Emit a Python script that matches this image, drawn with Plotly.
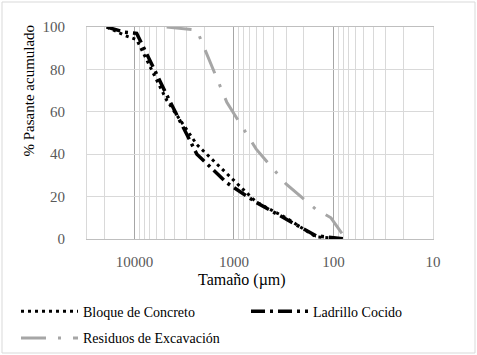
import plotly.graph_objects as go
import math

# Data (sizes in µm, % passing)
sizes_black = [19000, 12500, 9500, 4750, 2360, 1180, 600, 300, 150, 75]
bloque = [100, 96, 94, 65.5, 44.5, 31, 17.5, 10, 1, 0]
ladrillo = [100, 97.5, 97, 68, 40, 26.5, 17.3, 9.5, 1.5, 0]
sizes_gray = [4750, 2360, 1180, 600, 300, 150, 106, 75]
residuos = [100, 98.5, 64.5, 42.5, 26, 14, 10, 0]

major_ticks = [10000, 1000, 100, 10]
major_labels = ["10000", "1000", "100", "10"]
y_ticks = [0, 20, 40, 60, 80, 100]

W, H = 477, 355
L, R, T, B = 87, 44, 27, 116
pw, ph = W - L - R, H - T - B

def px_x(p):
    return (p - L) / pw

def px_y(p):
    return (H - B - p) / ph

minor_vals = []
for dec in [10, 100, 1000, 10000]:
    for k in range(2, 10):
        v = k * dec
        if v <= 30000:
            minor_vals.append(v)

FONT = "Liberation Serif, Times New Roman, serif"

fig = go.Figure()
fig.add_trace(go.Scatter(
    x=sizes_black, y=bloque, mode="lines", name="Bloque de Concreto",
    line=dict(color="#000000", width=3, dash="3px,4px"), legend="legend"))
fig.add_trace(go.Scatter(
    x=sizes_black, y=ladrillo, mode="lines", name="Ladrillo Cocido",
    line=dict(color="#000000", width=3.5, dash="14px,5px,3px,5px"), legend="legend3"))
fig.add_trace(go.Scatter(
    x=sizes_gray, y=residuos, mode="lines", name="Residuos de Excavación",
    line=dict(color="#a6a6a6", width=3, dash="25px,12px,3px,12px"), legend="legend2"))

leg_common = dict(
    orientation="h", xanchor="left", yanchor="top", itemwidth=57,
    font=dict(family=FONT, size=14, color="#000000"),
    bgcolor="rgba(0,0,0,0)", borderwidth=0,
)

fig.update_layout(
    width=W, height=H,
    margin=dict(l=L, r=R, t=T, b=B, pad=0, autoexpand=False),
    paper_bgcolor="white", plot_bgcolor="white",
    font=dict(family=FONT, size=15, color="#595959"),
    xaxis=dict(
        type="log", range=[math.log10(30000), 1],
        tickmode="array", tickvals=major_ticks, ticktext=major_labels,
        showgrid=True, gridcolor="#a6a6a6", gridwidth=1,
        minor=dict(tickmode="array", tickvals=minor_vals, showgrid=True,
                   gridcolor="#d9d9d9", gridwidth=1, ticks=""),
        showline=True, linecolor="#bfbfbf", linewidth=1, mirror=True,
        ticks="", ticklabelstandoff=9, zeroline=False,
        tickfont=dict(family=FONT, size=15, color="#595959"),
    ),
    yaxis=dict(
        range=[0, 100], tickmode="array", tickvals=y_ticks,
        showgrid=True, gridcolor="#d9d9d9", gridwidth=1,
        showline=True, linecolor="#d9d9d9", linewidth=1, mirror=True,
        ticks="", ticklabelstandoff=18, zeroline=False,
        tickfont=dict(family=FONT, size=15, color="#595959"),
    ),
    legend=dict(x=px_x(16), y=px_y(295.7), **leg_common),
    legend2=dict(x=px_x(16), y=px_y(322.3), **leg_common),
    legend3=dict(x=px_x(246), y=px_y(295.7), **leg_common),
    showlegend=True,
)

fig.add_annotation(
    text="Tamaño (µm)", xref="paper", yref="paper",
    x=px_x(242), y=px_y(279.5), xanchor="center", yanchor="middle",
    showarrow=False, font=dict(family=FONT, size=16, color="#000000"))
fig.add_annotation(
    text="% Pasante acumulado", xref="paper", yref="paper",
    x=px_x(28.5), y=px_y(90), xanchor="center", yanchor="middle",
    textangle=-90, showarrow=False,
    font=dict(family=FONT, size=15, color="#000000"))

fig.add_shape(
    type="rect", xref="paper", yref="paper",
    x0=px_x(2), x1=px_x(475), y0=px_y(353), y1=px_y(2),
    line=dict(color="#d9d9d9", width=1), fillcolor="rgba(0,0,0,0)", layer="below")

fig.write_html(
    "out.html",
    config={"displayModeBar": False},
    post_script="document.body.style.margin='0';document.body.style.padding='0';",
)
